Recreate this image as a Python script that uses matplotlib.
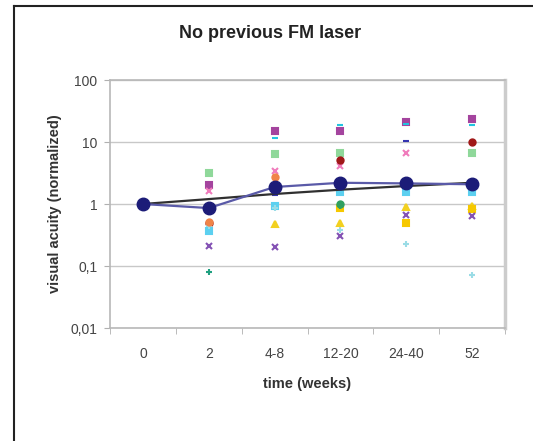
import numpy as np
import matplotlib
matplotlib.use('Agg')
import matplotlib.pyplot as plt
from matplotlib.lines import Line2D

plt.rcParams['font.family'] = ['Liberation Sans', 'DejaVu Sans']

categories = ['0', '2', '4-8', '12-20', '24-40', '52']
nan = np.nan

# single patients (normalized visual acuity), nan = no value
p_green = [1.0, 3.2, 6.4, 6.6, nan, 6.6]
p_magenta = [1.0, 2.0, 15.0, 14.8, 20.8, 23.5]
p_cyan_dash = [1.0, nan, 11.6, 19.0, 19.5, 19.0]
p_pink = [1.0, 1.6, 3.4, 4.1, 6.6, nan]
p_darkred = [1.0, 0.5, nan, 5.2, nan, 9.9]
p_blue_dash = [1.0, nan, 1.4, nan, 10.5, nan]
p_skyblue = [1.0, 0.37, 0.93, 1.58, 1.55, 1.55]
p_lightcyan = [1.0, 0.45, 0.85, 0.38, 0.23, 0.072]
p_yellow_tri = [1.0, nan, 0.48, 0.5, 0.88, 0.94]
p_yellow = [1.0, nan, nan, 0.85, 0.49, 0.83]
p_purple_x = [1.0, 0.21, 0.2, 0.31, 0.66, 0.65]
p_teal_plus = [1.0, 0.081, nan, 0.94, nan, nan]
p_seagreen = [1.0, nan, nan, 1.0, nan, nan]
p_orange = [1.0, 0.52, 2.7, nan, nan, nan]

# mean and trend
mean_va = [1.0, 0.86, 1.88, 2.2, 2.15, 2.08]
trend_va = [1.0, 1.2, 1.45, 1.7, 1.95, 2.2]

fig = plt.figure(figsize=(5.33, 4.41), dpi=100)
ax = fig.add_axes([110/533, 1-328/441, 395/533, 248/441])

x = np.arange(len(categories))

patients = [
    (p_green, 's', '#8fd89a'),
    (p_magenta, 's', '#a4449e'),
    (p_cyan_dash, '_', '#22c4e0'),
    (p_pink, 'x', '#f07cbc'),
    (p_darkred, 'o', '#a01818'),
    (p_blue_dash, '_', '#3434b0'),
    (p_skyblue, 's', '#5cd0f0'),
    (p_lightcyan, '+', '#9adce6'),
    (p_yellow_tri, '^', '#f2d020'),
    (p_yellow, 's', '#f6c800'),
    (p_purple_x, 'x', '#8452b4'),
    (p_teal_plus, '+', '#20a080'),
    (p_seagreen, 'o', '#30a060'),
    (p_orange, 'o', '#f08448'),
]
for vals, m, c in patients:
    ax.plot(x, vals, linestyle='none', marker=m, color=c, markersize=4.5,
            markeredgewidth=1.5)

ax.plot(x, trend_va, color='#303030', linewidth=1.6, zorder=4)
ax.plot(x, mean_va, color='#5a5aa8', linewidth=1.6, marker='o',
        markersize=9, markerfacecolor='#1c1c78', markeredgecolor='#1c1c78',
        zorder=5)

ax.set_yscale('log')
ax.set_ylim(0.01, 100)
ax.set_yticks([0.01, 0.1, 1, 10, 100])
ax.set_yticklabels(['0,01', '0,1', '1', '10', '100'])
ax.yaxis.set_minor_locator(matplotlib.ticker.NullLocator())
ax.grid(axis='y', color='#c8c8c8', linewidth=1)
ax.set_axisbelow(True)

ax.set_xlim(-0.5, 5.5)
ax.set_xticks(x)
ax.set_xticklabels(categories)
ax.set_xticks(np.arange(-0.5, 6, 1), minor=True)
ax.tick_params(axis='x', which='major', length=0, pad=14)
ax.tick_params(axis='x', which='minor', length=4, color='#b0b0b0')
ax.tick_params(axis='y', length=4, color='#b0b0b0', pad=5)
ax.tick_params(labelsize=10, labelcolor='#444444')

for s in ax.spines.values():
    s.set_color('#b8b8b8')
    s.set_linewidth(1.2)
ax.spines['right'].set_linewidth(2.5)
ax.spines['right'].set_color('#cccccc')

ax.set_ylabel('visual acuity (normalized)', fontsize=10.5, fontweight='bold',
              color='#333333', labelpad=6)
ax.set_xlabel('time (weeks)', fontsize=10.5, fontweight='bold', color='#333333',
              labelpad=11)
fig.text(270/533, 1-33/441, 'No previous FM laser', ha='center', va='center',
         fontsize=13, fontweight='bold', color='#222222')

# outer frame (only top and left edge visible)
fig.add_artist(Line2D([13.5/533, 13.5/533], [0, 1-6/441], color='#222222',
                      linewidth=1.5, transform=fig.transFigure))
fig.add_artist(Line2D([13.5/533, 1], [1-6/441, 1-6/441], color='#222222',
                      linewidth=1.5, transform=fig.transFigure))

fig.savefig('out.png', dpi=100)
